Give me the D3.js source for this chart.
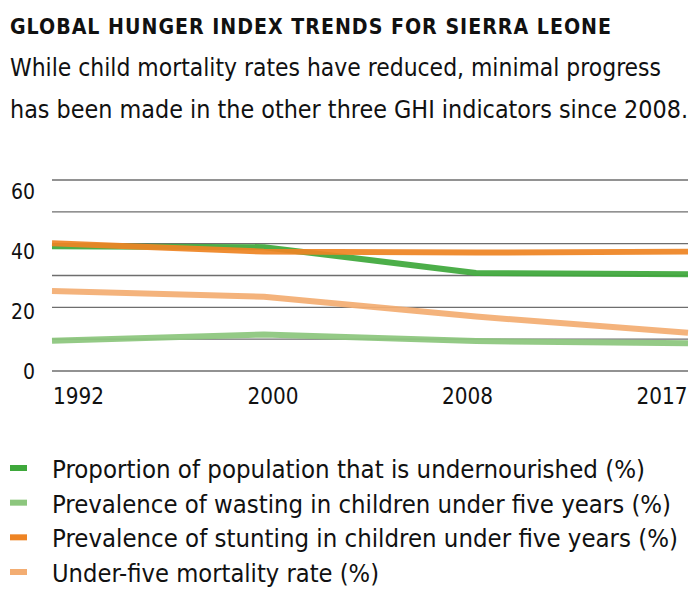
<!DOCTYPE html>
<html>
<head>
<meta charset="utf-8">
<script src="https://cdn.jsdelivr.net/npm/d3@7"></script>
<style>
  html, body { margin: 0; padding: 0; background: #fff; }
  svg { display: block; }
  text { font-family: "Liberation Sans Narrow", "DejaVu Sans Condensed", "Arial Narrow", sans-serif; fill: #111; }
</style>
</head>
<body>
<svg id="chart" width="700" height="599"></svg>
<script>
// ---- Data ----
const years = ["1992", "2000", "2008", "2017"];
const undernourished = [39.2, 38.9, 30.8, 30.4];
const wasting = [9.5, 11.5, 9.4, 8.7];
const stunting = [40.1, 37.5, 37.2, 37.5];
const mortality = [25.1, 23.3, 17.1, 12.0];
const yTicks = [0, 10, 20, 30, 40, 50, 60];
const yTickLabels = [0, 20, 40, 60];

const seriesNames = [
  "Proportion of population that is undernourished (%)",
  "Prevalence of wasting in children under five years (%)",
  "Prevalence of stunting in children under five years (%)",
  "Under-five mortality rate (%)"
];
const seriesValues = [undernourished, wasting, stunting, mortality];
const seriesColors = ["#3ea83b", "#8cc67d", "#ee8424", "#f3ad72"];
const drawOrder = [1, 0, 2, 3];

const title = "GLOBAL HUNGER INDEX TRENDS FOR SIERRA LEONE";
const subtitle = [
  "While child mortality rates have reduced, minimal progress",
  "has been made in the other three GHI indicators since 2008."
];

// ---- Layout ----
const svg = d3.select("#chart");
const x = d3.scalePoint().domain(years).range([52, 688]);
const y = d3.scaleLinear().domain([0, 60]).range([371, 180]);
const yLabel = d3.scaleLinear().domain([0, 60]).range([379, 199]);
const xLabel = d3.scalePoint().domain(years).range([78.5, 662]);

// shrink font so natural width never exceeds target, then pin exact width
function fit(sel, w) {
  const node = sel.node();
  const natural = node.getComputedTextLength();
  if (natural > w) {
    const fs = parseFloat(sel.attr("font-size"));
    sel.attr("font-size", (fs * w / natural).toFixed(2));
  }
  sel.attr("textLength", w).attr("lengthAdjust", "spacingAndGlyphs");
}

// Title
svg.append("text").attr("x", 10).attr("y", 34)
  .attr("font-size", 24).attr("font-weight", "bold").attr("letter-spacing", 1)
  .text(title).call(fit, 602);

// Subtitle
const subWidths = [651, 678];
svg.selectAll("text.sub").data(subtitle).join("text").attr("class", "sub")
  .attr("x", 10).attr("y", (d, i) => 76 + i * 42)
  .attr("font-size", 25)
  .text(d => d)
  .each(function(d, i) { d3.select(this).call(fit, subWidths[i]); });

// Gridlines
svg.append("g").selectAll("line").data(yTicks).join("line")
  .attr("x1", 52).attr("x2", 688)
  .attr("y1", d => y(d)).attr("y2", d => y(d))
  .attr("stroke", "#6e6e6e").attr("stroke-width", 1.3);

// Y labels
svg.append("g").selectAll("text").data(yTickLabels).join("text")
  .attr("x", 35).attr("y", d => yLabel(d))
  .attr("text-anchor", "end").attr("font-size", 21)
  .text(d => d);

// X labels
svg.append("g").selectAll("text").data(years).join("text")
  .attr("x", d => xLabel(d)).attr("y", 404)
  .attr("text-anchor", "middle").attr("font-size", 24)
  .text(d => d)
  .each(function() { d3.select(this).call(fit, 51); });

// Lines
const line = d3.line().x((d, i) => x(years[i])).y(d => y(d));
svg.append("g").selectAll("path").data(drawOrder).join("path")
  .attr("d", k => line(seriesValues[k]))
  .attr("fill", "none")
  .attr("stroke", k => seriesColors[k])
  .attr("stroke-width", 6)
  .attr("stroke-opacity", 0.93)
  .attr("stroke-linejoin", "round");

// Legend
const legendY = d3.scalePoint().domain(d3.range(4)).range([468, 572]);
const legendWidths = [593, 619, 626, 327];
const lg = svg.append("g").selectAll("g").data(d3.range(4)).join("g")
  .attr("transform", k => `translate(0,${legendY(k)})`);
lg.append("rect").attr("x", 10).attr("y", -3).attr("width", 17).attr("height", 6)
  .attr("fill", k => seriesColors[k]);
lg.append("text").attr("x", 52).attr("y", 10).attr("font-size", 27)
  .text(k => seriesNames[k])
  .each(function(k) { d3.select(this).call(fit, legendWidths[k]); });
</script>
</body>
</html>
